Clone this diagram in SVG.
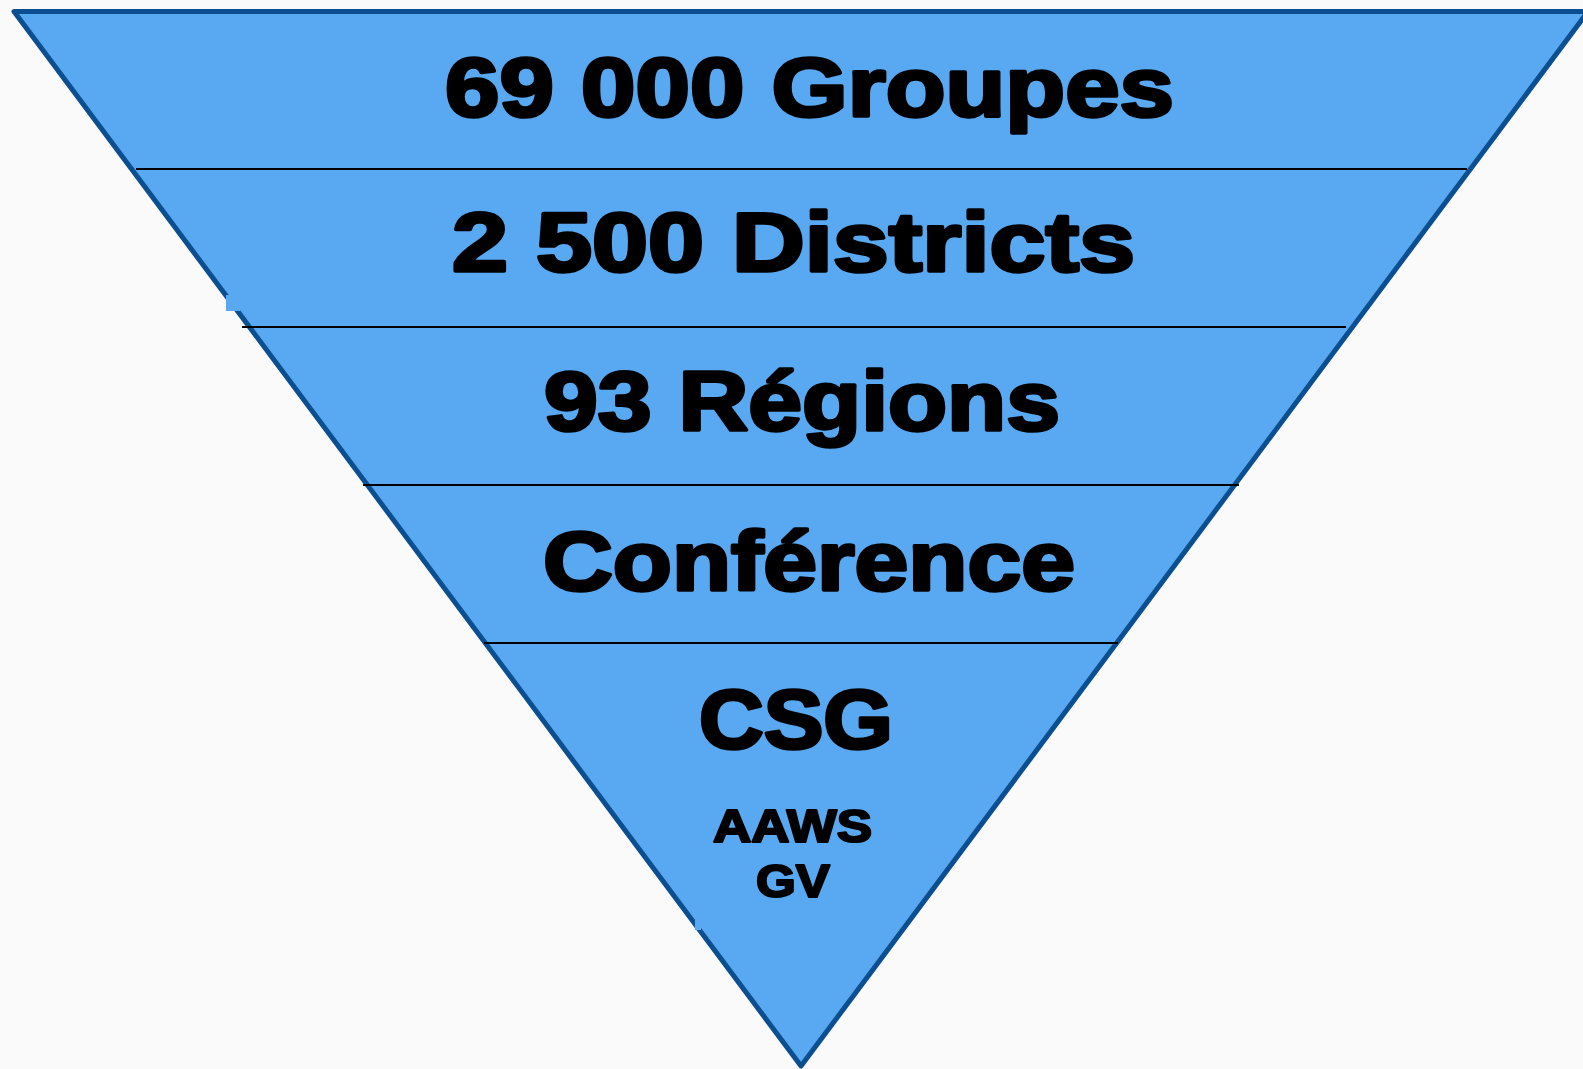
<svg xmlns="http://www.w3.org/2000/svg" width="1583" height="1069" viewBox="0 0 1583 1069">
<style>
.big{font-family:"Liberation Sans",Arial,sans-serif;font-weight:bold;font-size:84px;fill:#000;stroke:#000;stroke-width:3.5;stroke-linejoin:round}
.small{font-family:"Liberation Sans",Arial,sans-serif;font-weight:bold;font-size:47px;fill:#000;stroke:#000;stroke-width:2.2;stroke-linejoin:round}
.sep{stroke:#000;stroke-width:2.2;fill:none}
</style>
<rect width="1583" height="1069" fill="#fafafa"/>
<polygon id="funnel" points="14,11.5 1588,11.5 801,1066" fill="#58a8f2" stroke="#0b4f91" stroke-width="5" stroke-linejoin="round"/>
<rect x="226" y="295" width="14" height="16" fill="#58a8f2"/>
<rect x="695" y="918" width="6" height="12" fill="#58a8f2"/>
<g id="connectors">
<line class="sep" x1="136" y1="169" x2="1467" y2="169"/>
<line class="sep" x1="242" y1="327" x2="1346" y2="327"/>
<line class="sep" x1="363" y1="485" x2="1239" y2="485"/>
<line class="sep" x1="484" y1="643" x2="1118" y2="643"/>
</g>
<g id="groupes"><text class="big" x="445" y="116" textLength="729" lengthAdjust="spacingAndGlyphs">69 000 Groupes</text></g>
<g id="districts"><text class="big" x="452" y="271" textLength="683" lengthAdjust="spacingAndGlyphs">2 500 Districts</text></g>
<g id="regions"><text class="big" x="544" y="430" textLength="516" lengthAdjust="spacingAndGlyphs">93 Régions</text></g>
<g id="conference"><text class="big" x="543" y="590" textLength="532" lengthAdjust="spacingAndGlyphs">Conférence</text></g>
<g id="csg">
<text class="big" x="699" y="748" textLength="194" lengthAdjust="spacingAndGlyphs">CSG</text>
<text class="small" x="713" y="842" textLength="159" lengthAdjust="spacingAndGlyphs">AAWS</text>
<text class="small" x="756" y="897" textLength="74" lengthAdjust="spacingAndGlyphs">GV</text>
</g>
</svg>
